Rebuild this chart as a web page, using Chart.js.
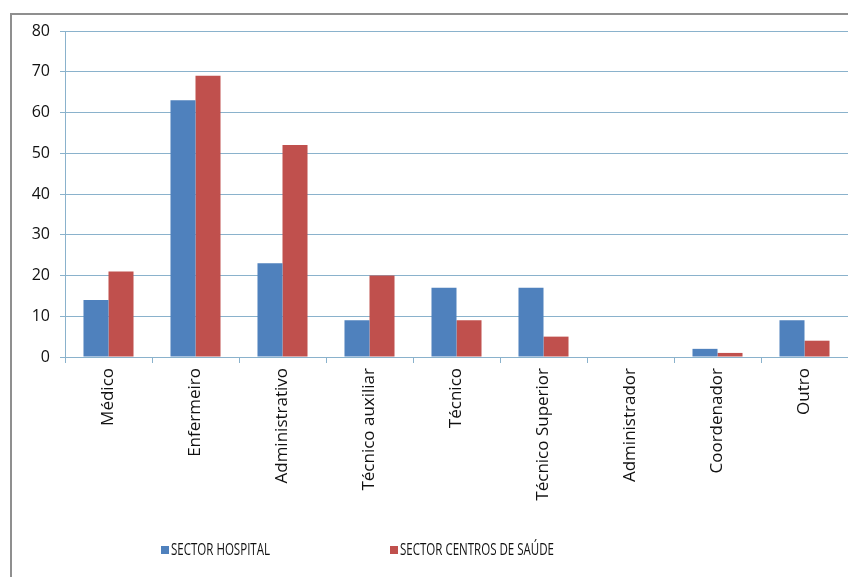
<!DOCTYPE html>
<html>
<head>
<meta charset="utf-8">
<script src="https://cdn.jsdelivr.net/npm/chart.js@4/dist/chart.umd.min.js"></script>
<style>
  html, body { margin: 0; padding: 0; background: #fff; }
  #wrap { position: relative; width: 848px; height: 577px; overflow: hidden; }
  #frame { position: absolute; left: 10px; top: 13px; width: 900px; height: 600px;
           border-left: 2px solid #8f8f8f; border-top: 2px solid #8f8f8f; }
  canvas { position: absolute; left: 0; top: 0; }
</style>
</head>
<body>
<div id="wrap">
  <div id="frame"></div>
  <canvas id="c" width="848" height="577"></canvas>
</div>
<script>
const categories = ['Médico', 'Enfermeiro', 'Administrativo', 'Técnico auxiliar', 'Técnico',
                    'Técnico Superior', 'Administrador', 'Coordenador', 'Outro'];
const seriesNames = ['SECTOR HOSPITAL', 'SECTOR CENTROS DE SAÚDE'];
const hospital = [14, 63, 23, 9, 17, 17, 0, 2, 9];
const centros  = [21, 69, 52, 20, 9, 5, 0, 1, 4];
const yTicks = [0, 10, 20, 30, 40, 50, 60, 70, 80];

const FONT = '"Open Sans", "DejaVu Sans", sans-serif';
const gridColor = '#8ab2cc';
const textColor = '#111111';

const legendPlugin = {
  id: 'customLegend',
  afterDraw(chart) {
    const ctx = chart.ctx;
    const items = [
      { box: 161, text: 171, width: 99 },
      { box: 390, text: 400, width: 154 }
    ];
    ctx.save();
    ctx.font = '16px ' + FONT;
    ctx.textBaseline = 'middle';
    ctx.textAlign = 'left';
    chart.data.datasets.forEach((ds, i) => {
      const it = items[i];
      ctx.fillStyle = ds.backgroundColor;
      ctx.fillRect(it.box, 546, 8, 8);
      ctx.fillStyle = textColor;
      ctx.fillText(ds.label, it.text, 550, it.width);
    });
    ctx.restore();
  }
};

new Chart(document.getElementById('c'), {
  type: 'bar',
  data: {
    labels: categories,
    datasets: [
      { label: seriesNames[0], data: hospital, backgroundColor: '#4f81bd' },
      { label: seriesNames[1], data: centros, backgroundColor: '#c0504d' }
    ]
  },
  options: {
    responsive: false,
    animation: false,
    layout: { padding: { left: 0, top: 31, right: 0, bottom: 0 } },
    datasets: { bar: { categoryPercentage: 0.575, barPercentage: 1.0 } },
    plugins: { legend: { display: false }, tooltip: { enabled: false } },
    scales: {
      x: {
        grid: { display: true, drawOnChartArea: false, drawTicks: true, tickLength: 6,
                color: gridColor, offset: true },
        border: { display: true, color: gridColor },
        ticks: { minRotation: 90, maxRotation: 90, autoSkip: false, padding: 5,
                 color: textColor, font: { family: FONT, size: 17 } },
        afterFit(scale) { scale.height = 220; }
      },
      y: {
        min: 0, max: 80,
        afterBuildTicks(scale) { scale.ticks = yTicks.map(v => ({ value: v })); },
        grid: { color: gridColor, drawTicks: true, tickLength: 5 },
        border: { display: true, color: gridColor },
        ticks: { padding: 10, color: textColor, font: { family: FONT, size: 16 } },
        afterFit(scale) { scale.width = 65; }
      }
    }
  },
  plugins: [legendPlugin]
});
</script>
</body>
</html>
